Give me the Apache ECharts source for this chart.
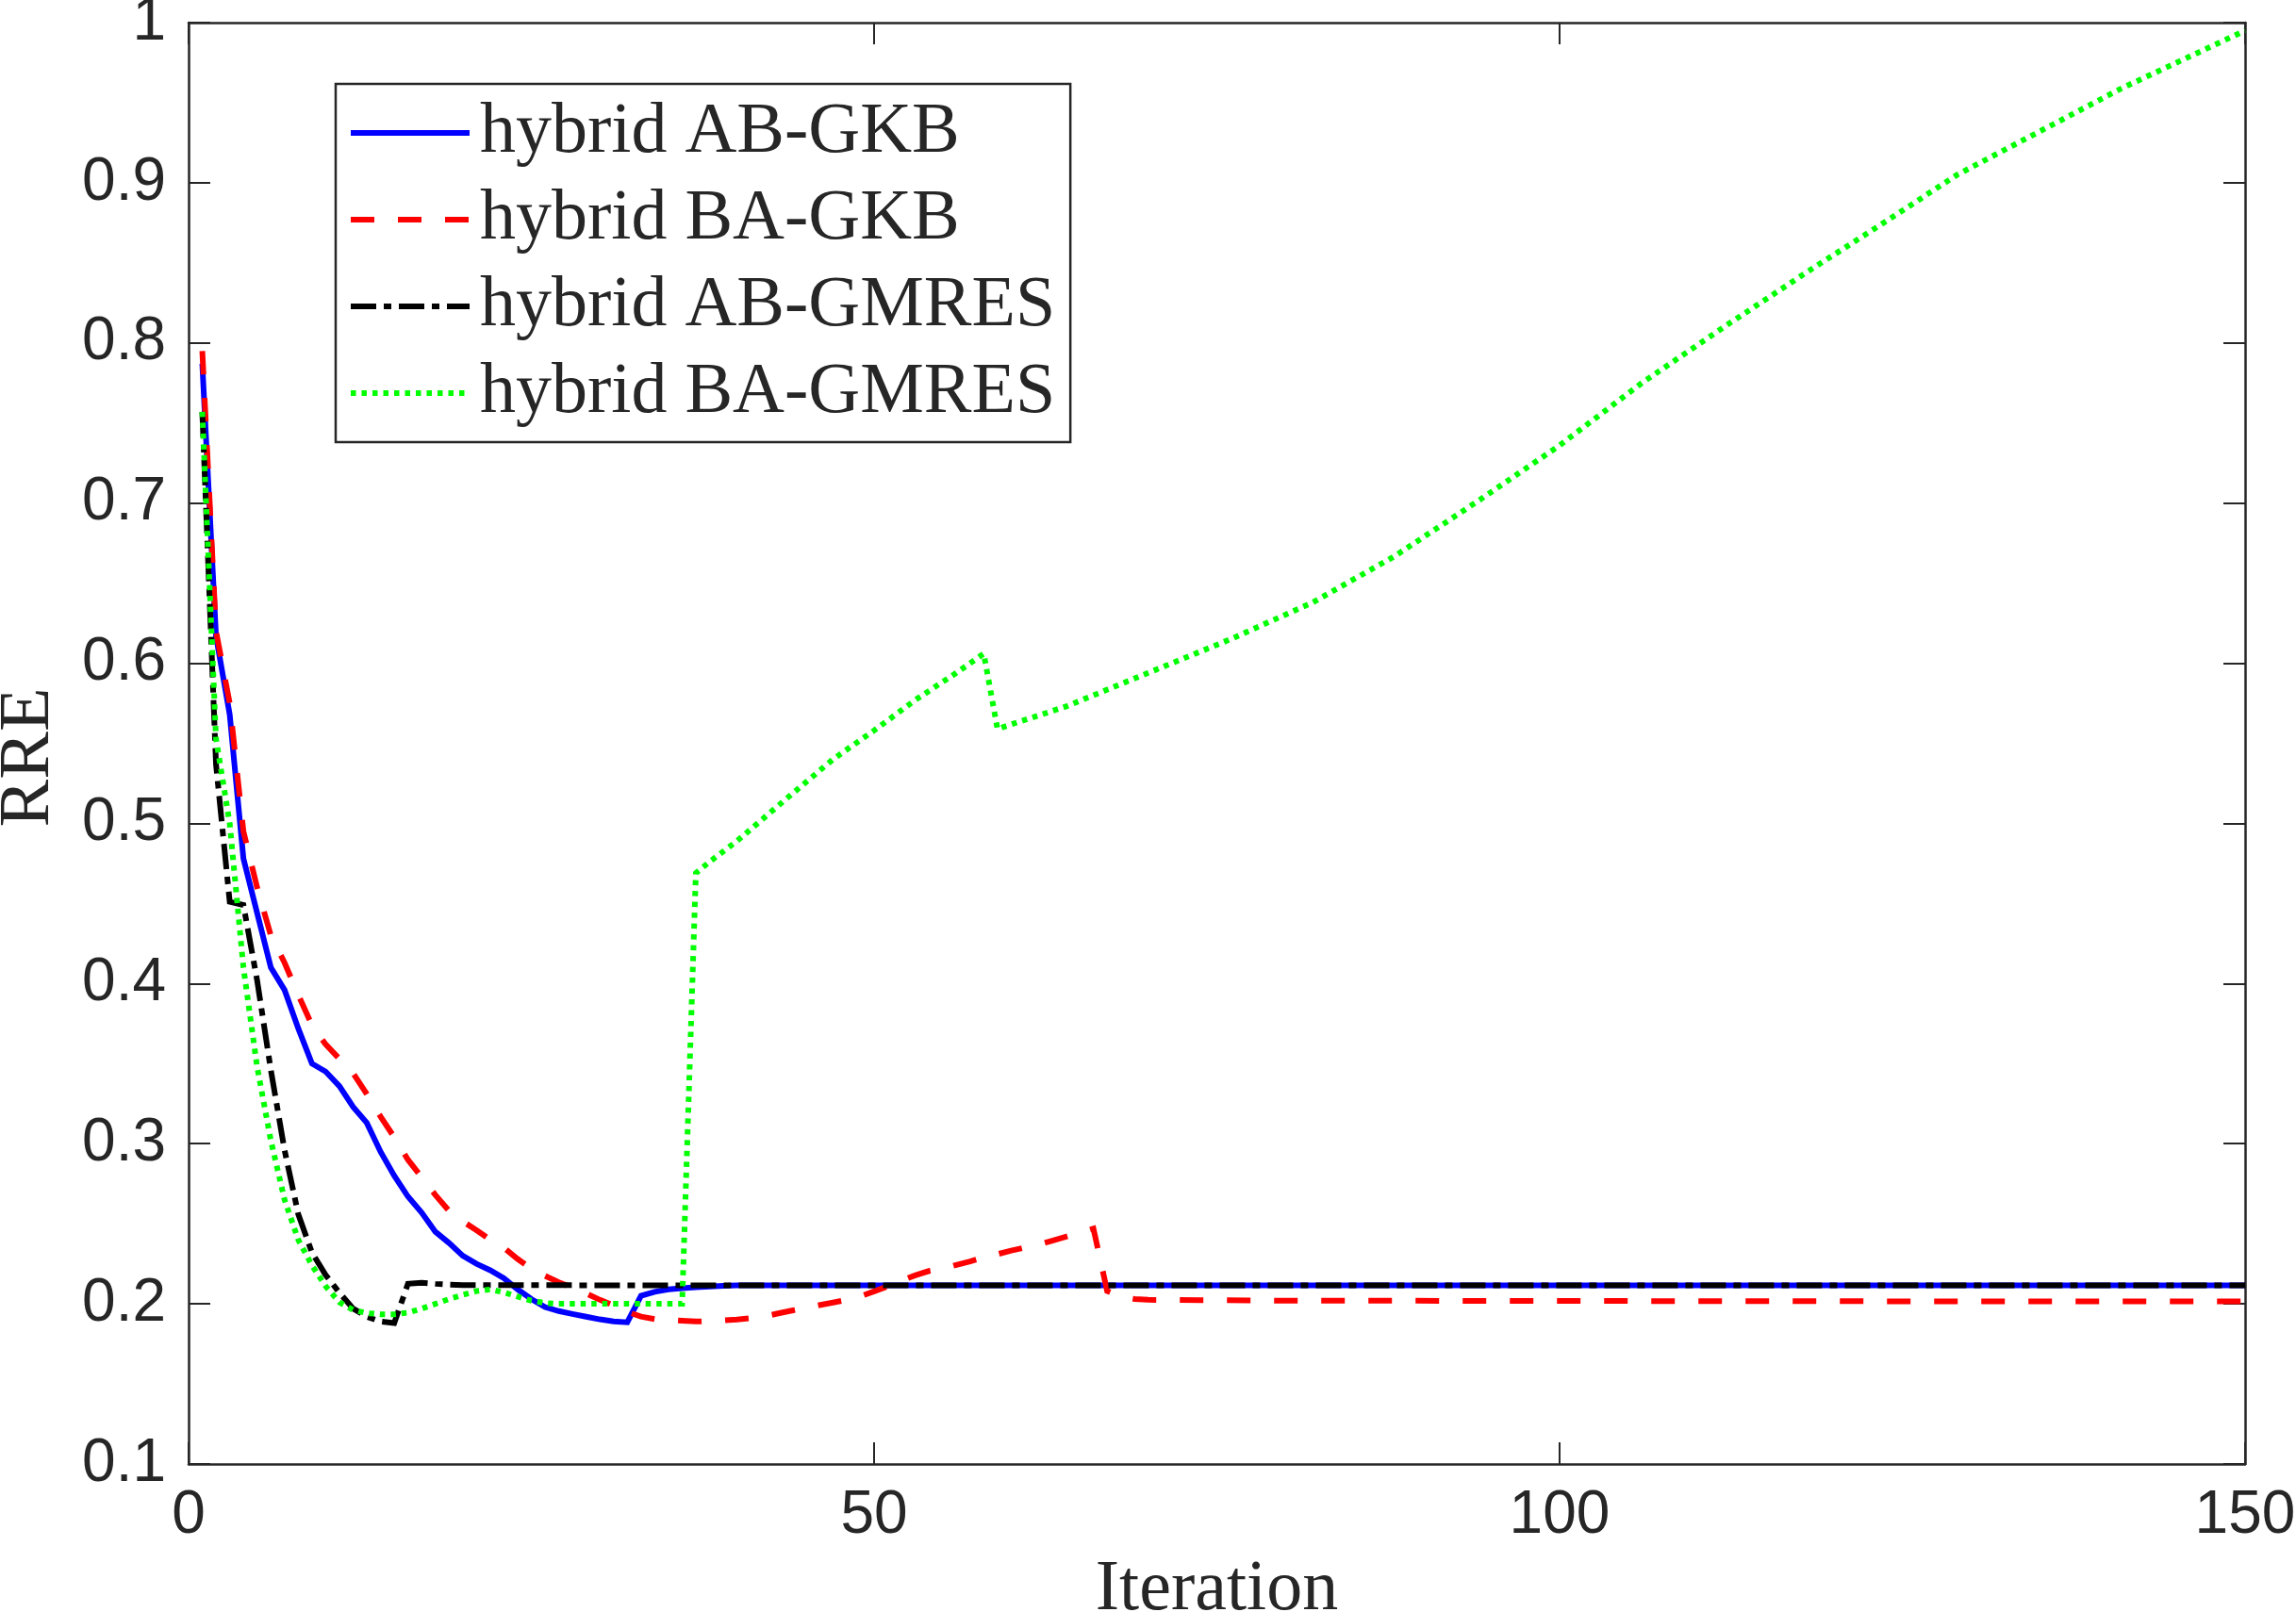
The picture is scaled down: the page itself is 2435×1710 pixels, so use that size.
<!DOCTYPE html>
<html>
<head>
<meta charset="utf-8">
<script src="https://cdn.jsdelivr.net/npm/echarts@6/dist/echarts.min.js"></script>
<style>
  html, body { margin: 0; padding: 0; background: #fff; }
  #chart { width: 2435px; height: 1710px; }
</style>
</head>
<body>
<div id="chart"></div>
<script>
// ---- data ----
const seriesNames = ['hybrid AB-GKB', 'hybrid BA-GKB', 'hybrid AB-GMRES', 'hybrid BA-GMRES'];

const abGkbIter = [1,2,3,4,5,6,7,8,9,10,11,12,13,14,15,16,17,18,19,20,21,22,23,24,25,26,27,28,29,30,31,32,33,34,35,36,37,38,39,40,50,100,150];
const abGkbRRE  = [0.787,0.617,0.568,0.478,0.444,0.410,0.396,0.372,0.350,0.345,0.336,0.323,0.313,0.295,0.280,0.267,0.257,0.245,0.238,0.230,0.225,0.221,0.216,0.209,0.203,0.198,0.1955,0.1937,0.192,0.1903,0.189,0.1885,0.205,0.2075,0.209,0.2098,0.2104,0.2108,0.2112,0.2115,0.2116,0.2116,0.2116];

const baGkbIter = [1,2,3,4,5,6,7,8,9,10,11,12,13,14,15,16,17,18,19,20,21,22,23,24,25,26,27,28,29,30,31,32,33,34,35,36,37,38,39,40,41,42,43,44,45,46,47,48,49,50,51,52,53,54,55,56,57,58,59,60,61,62,63,64,65,66,67,68,69,70,80,100,125,150];
const baGkbRRE  = [0.795,0.620,0.575,0.495,0.460,0.430,0.413,0.393,0.374,0.362,0.353,0.344,0.331,0.317,0.304,0.290,0.279,0.268,0.258,0.2515,0.246,0.240,0.235,0.228,0.222,0.2175,0.2135,0.210,0.2065,0.2025,0.199,0.195,0.192,0.1905,0.190,0.1895,0.189,0.1892,0.1897,0.1902,0.191,0.1922,0.194,0.1958,0.1975,0.1992,0.2008,0.2025,0.2047,0.2078,0.211,0.2145,0.2178,0.2205,0.222,0.2243,0.2265,0.229,0.231,0.2332,0.2352,0.237,0.2395,0.242,0.2445,0.247,0.208,0.2045,0.203,0.2025,0.202,0.2018,0.2016,0.2015];

const abGmresIter = [1,2,3,4,5,6,7,8,9,10,11,12,13,14,15,16,17,18,19,20,30,50,100,150];
const abGmresRRE  = [0.757,0.537,0.451,0.449,0.402,0.346,0.296,0.256,0.232,0.218,0.207,0.197,0.192,0.189,0.188,0.2125,0.2132,0.2125,0.212,0.2117,0.2116,0.2116,0.2116,0.2116];

const baGmresIter = [1,2,3,4,5,6,7,8,9,10,11,12,13,14,15,16,17,18,19,20,21,22,23,24,25,26,27,30,36,37,38,40,43,47,50,53,56,58,59,64,70,76,82,88,94,100,106,112,118,124,129,135,141,150];
const baGmresRRE  = [0.757,0.553,0.500,0.410,0.348,0.302,0.265,0.240,0.224,0.211,0.201,0.1962,0.1942,0.1935,0.1935,0.1945,0.197,0.200,0.203,0.2056,0.208,0.209,0.2072,0.2045,0.202,0.2005,0.200,0.200,0.200,0.469,0.476,0.489,0.511,0.540,0.558,0.577,0.594,0.606,0.559,0.573,0.594,0.615,0.638,0.667,0.701,0.736,0.775,0.810,0.844,0.877,0.905,0.932,0.959,0.995];

const xTicks = { min: 0, max: 150, interval: 50 };
const yTicks = { min: 0.1, max: 1, interval: 0.1 };

// ---- chart ----
function pairs(xs, ys) { return xs.map((x, i) => [x, ys[i]]); }

const AX = '#262626';
const serif = 'Liberation Serif';
const sans = 'Liberation Sans';
const LW = 6;

const styles = [
  { color: '#0000ff', type: 'solid' },
  { color: '#ff0000', type: [25, 25] },
  { color: '#000000', type: [27, 8, 8, 8] },
  { color: '#00ff00', type: [5.5, 6] }
];
const dataSets = [
  pairs(abGkbIter, abGkbRRE),
  pairs(baGkbIter, baGkbRRE),
  pairs(abGmresIter, abGmresRRE),
  pairs(baGmresIter, baGmresRRE)
];

const baseX = {
  type: 'value', min: xTicks.min, max: xTicks.max, interval: xTicks.interval,
  splitLine: { show: false },
  axisLine: { show: true, onZero: false, lineStyle: { color: AX, width: 2.5 } },
  axisTick: { show: true, inside: true, length: 23, lineStyle: { color: AX, width: 2 } }
};
const baseY = {
  type: 'value', min: yTicks.min, max: yTicks.max, interval: yTicks.interval,
  splitLine: { show: false },
  axisLine: { show: true, onZero: false, lineStyle: { color: AX, width: 2.5 } },
  axisTick: { show: true, inside: true, length: 23, lineStyle: { color: AX, width: 2 } }
};

const chart = echarts.init(document.getElementById('chart'), null, { renderer: 'canvas' });
chart.setOption({
  animation: false,
  backgroundColor: '#ffffff',
  grid: { left: 200, right: 54, top: 24, bottom: 157, containLabel: false, outerBoundsMode: 'none' },
  xAxis: [
    Object.assign({}, baseX, {
      position: 'bottom',
      axisLabel: { fontFamily: sans, fontSize: 64, color: AX, margin: 23 },
      name: 'Iteration', nameLocation: 'middle', nameGap: 96,
      nameTextStyle: { fontFamily: serif, fontSize: 76, color: AX }
    }),
    Object.assign({}, baseX, { position: 'top', axisLabel: { show: false } })
  ],
  yAxis: [
    Object.assign({}, baseY, {
      position: 'left',
      axisLabel: {
        fontFamily: sans, fontSize: 64, color: AX, margin: 24,
        formatter: v => String(Math.round(v * 10) / 10)
      },
      name: 'RRE', nameLocation: 'middle', nameGap: 131, nameRotate: 90,
      nameTextStyle: { fontFamily: serif, fontSize: 76, color: AX, padding: [0, 30, 0, 0] }
    }),
    Object.assign({}, baseY, { position: 'right', axisLabel: { show: false } })
  ],
  legend: {
    orient: 'vertical',
    left: 356, top: 89,
    itemWidth: 126, itemHeight: 20,
    itemGap: 12,
    padding: [12, 16, 12, 13],
    borderColor: AX, borderWidth: 2.5,
    backgroundColor: '#ffffff',
    itemStyle: { opacity: 0, borderWidth: 0 },
    lineStyle: { width: LW },
    textStyle: { fontFamily: serif, fontSize: 76, color: AX, lineHeight: 80, padding: [0, 0, 0, 6] },
    data: seriesNames
  },
  series: seriesNames.map((n, k) => ({
    name: n, type: 'line', xAxisIndex: 0, yAxisIndex: 0,
    data: dataSets[k],
    showSymbol: false, symbol: 'none',
    itemStyle: { color: styles[k].color },
    lineStyle: { color: styles[k].color, width: LW, type: styles[k].type, cap: 'butt', join: 'miter' },
    emphasis: { disabled: true }
  }))
});
</script>
</body>
</html>
